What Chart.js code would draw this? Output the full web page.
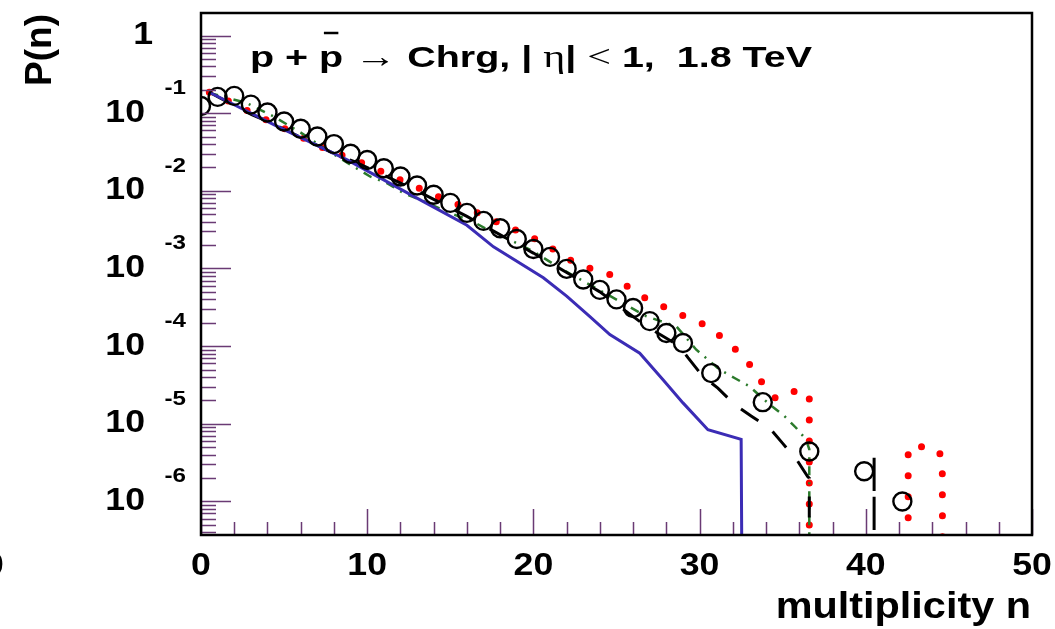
<!DOCTYPE html>
<html>
<head>
<meta charset="utf-8">
<script src="https://cdn.jsdelivr.net/npm/chart.js@4.4.1/dist/chart.umd.min.js"></script>
<style>
  html, body { margin: 0; padding: 0; background: #fff; }
</style>
</head>
<body>
<canvas id="chart" width="1055" height="629"></canvas>
<script>
// measured points (open circles)
const dataN = [0, 1, 2, 3, 4, 5, 6, 7, 8, 9, 10, 11, 12, 13, 14, 15, 16, 17, 18, 19,
  20, 21, 22, 23, 24, 25, 26, 27, 28, 29, 30.7, 33.8, 36.6, 39.9, 42.2];
const dataP = [1.24e-1, 1.62e-1, 1.67e-1, 1.29e-1, 1.02e-1, 7.8e-2, 6.3e-2, 5.0e-2, 4.0e-2, 3.0e-2,
  2.5e-2, 1.95e-2, 1.53e-2, 1.17e-2, 8.9e-3, 7.0e-3, 5.2e-3, 4.1e-3, 3.3e-3, 2.4e-3,
  1.78e-3, 1.41e-3, 9.9e-4, 7.2e-4, 5.3e-4, 4.0e-4, 3.1e-4, 2.1e-4, 1.48e-4, 1.1e-4,
  4.5e-5, 1.9e-5, 4.4e-6, 2.45e-6, 1.0e-6];

// P = 0 cannot sit on a log axis, this stands for it (drawn below the frame)
const ZERO = 1e-9;

// blue solid curve
const blueN = [0.5, 4.5, 8.8, 12.8, 16, 17.6, 20.6, 22, 23.4, 24.6, 26.4, 27.8, 29, 30.5, 32.5, 32.6];
const blueP = [1.86e-1, 6.9e-2, 2.5e-2, 8.5e-3, 3.6e-3, 1.9e-3, 7.6e-4, 4.4e-4, 2.4e-4, 1.41e-4,
  8.1e-5, 3.7e-5, 1.86e-5, 8.4e-6, 6.3e-6, ZERO];

// red dotted curve
const redN = [0.5, 1.1, 2.35, 4.75, 7.16, 9.67, 12.1, 14.7, 16, 18.3, 19.6, 20.8, 21.8, 23, 24.4,
  25.5, 26.6, 27.8, 29, 30.3, 31.3, 32.3, 33.1, 33.8, 34.6, 35.8, 36.6, 36.6,
  42.55, 42.55, 43.9, 44.6, 44.65];
const redP = [1.86e-1, 1.64e-1, 1.2e-1, 6.76e-2, 3.72e-2, 2.29e-2, 1.35e-2, 7.67e-3, 6.03e-3, 3.55e-3,
  2.72e-3, 2.02e-3, 1.43e-3, 1.06e-3, 8.9e-4, 6.18e-4, 4.3e-4, 3.25e-4, 2.47e-4, 1.89e-4,
  1.32e-4, 8.57e-5, 5.5e-5, 3.29e-5, 2.09e-5, 2.67e-5, 2.45e-5, ZERO,
  ZERO, 5.0e-6, 5.13e-6, 3.89e-6, ZERO];

// green dash-dotted curve
const greenN = [0.5, 2.75, 4.35, 6, 7.76, 9.17, 10.17, 11.17, 12.2, 13.2, 14.8, 16.4, 17.4, 18.4,
  20, 21.6, 23.4, 25, 26.8, 28.6, 29.8, 31.2, 32.1, 33, 34.2, 35.1, 35.8, 36.4, 36.6, 36.6];
const greenP = [1.82e-1, 1.35e-1, 9.12e-2, 5.62e-2, 3.16e-2, 2.06e-2, 1.53e-2, 1.26e-2, 9.33e-3, 7.67e-3,
  5.37e-3, 3.98e-3, 3.02e-3, 2.45e-3, 1.66e-3, 1.01e-3, 6.17e-4, 3.98e-4, 2.42e-4, 1.8e-4,
  9.0e-5, 5.0e-5, 3.89e-5, 3.04e-5, 1.78e-5, 1.26e-5, 8.9e-6, 6.3e-6, 4.7e-6, ZERO];

// black long-dashed curve
const blackN = [0.5, 3.05, 4.05, 8.4, 9.2, 13, 16, 20, 22, 24, 26.7, 28.8, 29.3, 30.2, 31.1, 32.1,
  33.1, 34.2, 35, 35.9, 36.5, 36.6, 36.6, 40.5, 40.5, 40.5];
const blackP = [1.86e-1, 9.55e-2, 7.82e-2, 2.75e-2, 2.4e-2, 1.0e-2, 4.68e-3, 1.58e-3, 8.9e-4, 5.0e-4,
  1.86e-4, 1.0e-4, 7.1e-5, 4.07e-5, 2.88e-5, 1.78e-5, 1.26e-5, 8.9e-6, 5.6e-6, 3.3e-6,
  2.09e-6, 2.0e-6, ZERO, ZERO, 3.98e-6, ZERO];

// axes
const xMin = 0, xMax = 50;
const yMin = 3.7e-7, yMax = 1.95;
const xTicks = [0, 10, 20, 30, 40, 50];
const yExps = [0, -1, -2, -3, -4, -5, -6];

const pts = (xs, ys) => xs.map((x, i) => ({ x: x, y: ys[i] }));

const SANS = '"Liberation Sans", Arial, sans-serif';
const SERIF = '"Liberation Serif", "DejaVu Serif", serif';

// draw text squeezed/stretched horizontally like the original
function txt(ctx, s, x, y, font, align, sx) {
  ctx.save();
  ctx.font = font;
  ctx.textAlign = align;
  ctx.textBaseline = 'middle';
  ctx.translate(x, y);
  ctx.scale(sx, 1);
  ctx.fillText(s, 0, 0);
  ctx.restore();
}

const rootFrame = {
  id: 'rootFrame',
  afterDraw(chart) {
    const { ctx, chartArea: a, scales: { x, y } } = chart;
    ctx.save();

    // tick marks, drawn inward like ROOT
    ctx.strokeStyle = '#6a3a74';
    ctx.lineWidth = 1.5;
    ctx.beginPath();
    for (let k = -7; k <= 0; k++) {
      for (let m = 1; m <= 9; m++) {
        const v = m * Math.pow(10, k);
        if (v < yMin || v > yMax) continue;
        const py = Math.round(y.getPixelForValue(v)) + 0.5;
        ctx.moveTo(a.left, py);
        ctx.lineTo(a.left + (m === 1 ? 30 : 15), py);
      }
    }
    for (let v = xMin; v <= xMax; v += 2) {
      const px = Math.round(x.getPixelForValue(v)) + 0.5;
      ctx.moveTo(px, a.bottom);
      ctx.lineTo(px, a.bottom - (v % 10 === 0 ? 26 : 13));
    }
    ctx.stroke();

    // frame
    ctx.strokeStyle = '#000';
    ctx.lineWidth = 2.5;
    ctx.strokeRect(a.left, a.top, a.right - a.left, a.bottom - a.top);

    ctx.fillStyle = '#000';
    // y labels: 10 with exponent
    yExps.forEach(e => {
      const py = y.getPixelForValue(Math.pow(10, e));
      if (e === 0) {
        txt(ctx, '1', 153, py, 'bold 31px ' + SANS, 'right', 1.15);
      } else {
        txt(ctx, '10', 145, py, 'bold 31px ' + SANS, 'right', 1.15);
        txt(ctx, String(e), 186, py - 25, 'bold 21px ' + SANS, 'right', 1.15);
      }
    });
    // x labels
    xTicks.forEach(v => {
      txt(ctx, String(v), x.getPixelForValue(v), 566, 'bold 31px ' + SANS, 'center', 1.15);
    });
    // stray clipped label at the far left
    txt(ctx, '0', -6, 566, 'bold 31px ' + SANS, 'center', 1.15);

    // axis titles
    txt(ctx, 'multiplicity n', 1031, 608, 'bold 36px ' + SANS, 'right', 1.15);
    ctx.save();
    ctx.translate(41, 50);
    ctx.rotate(-Math.PI / 2);
    txt(ctx, 'P(n)', 0, 0, 'bold 37px ' + SANS, 'center', 1.0);
    ctx.restore();

    // title
    const B = 'bold 30px ' + SANS, S = '32px ' + SERIF;
    const segs = [['p + ', B], ['p', B, true], [' ', B], ['\u2192', S], [' Chrg, | ', B],
      ['\u03b7', S], ['| ', B], ['<', S], [' 1,  1.8 TeV', B]];
    let w = 0;
    segs.forEach(s => { ctx.font = s[1]; w += ctx.measureText(s[0]).width; });
    const sx = 562 / w;
    let cx = 250;
    ctx.textAlign = 'left';
    ctx.textBaseline = 'alphabetic';
    segs.forEach(s => {
      ctx.font = s[1];
      const sw = ctx.measureText(s[0]).width;
      ctx.save();
      ctx.translate(cx, 67);
      ctx.scale(sx, 1);
      ctx.fillText(s[0], 0, 0);
      ctx.restore();
      if (s[2]) {
        ctx.lineWidth = 2.5;
        ctx.beginPath();
        ctx.moveTo(cx + 0.2 * sw * sx, 33);
        ctx.lineTo(cx + 0.8 * sw * sx, 33);
        ctx.stroke();
      }
      cx += sw * sx;
    });
    ctx.restore();
  }
};

const lineStyle = {
  showLine: true, pointRadius: 0, tension: 0, fill: false, clip: 0
};

new Chart(document.getElementById('chart'), {
  type: 'scatter',
  data: {
    datasets: [
      {
        label: 'data', data: pts(dataN, dataP), showLine: false, clip: 0,
        pointStyle: 'circle', pointRadius: 9, pointBorderWidth: 2.4,
        pointBorderColor: '#000', pointBackgroundColor: 'rgba(0,0,0,0)'
      },
      Object.assign({ label: 'blue', data: pts(blueN, blueP), borderColor: '#3b2cb5', borderWidth: 3 }, lineStyle),
      Object.assign({ label: 'black', data: pts(blackN, blackP), borderColor: '#000', borderWidth: 3,
        borderDash: [21, 18] }, lineStyle),
      Object.assign({ label: 'green', data: pts(greenN, greenP), borderColor: '#2b7a2b', borderWidth: 2.5,
        borderDash: [9, 7, 2, 7] }, lineStyle),
      Object.assign({ label: 'red', data: pts(redN, redP), borderColor: '#ff0000', borderWidth: 7,
        borderDash: [0, 21], borderCapStyle: 'round' }, lineStyle)
    ]
  },
  options: {
    responsive: false,
    animation: false,
    layout: { padding: { left: 201, top: 13, right: 23, bottom: 94 } },
    plugins: { legend: { display: false }, tooltip: { enabled: false } },
    scales: {
      x: { type: 'linear', min: xMin, max: xMax, display: false },
      y: { type: 'logarithmic', min: yMin, max: yMax, display: false }
    }
  },
  plugins: [rootFrame]
});
</script>
</body>
</html>
